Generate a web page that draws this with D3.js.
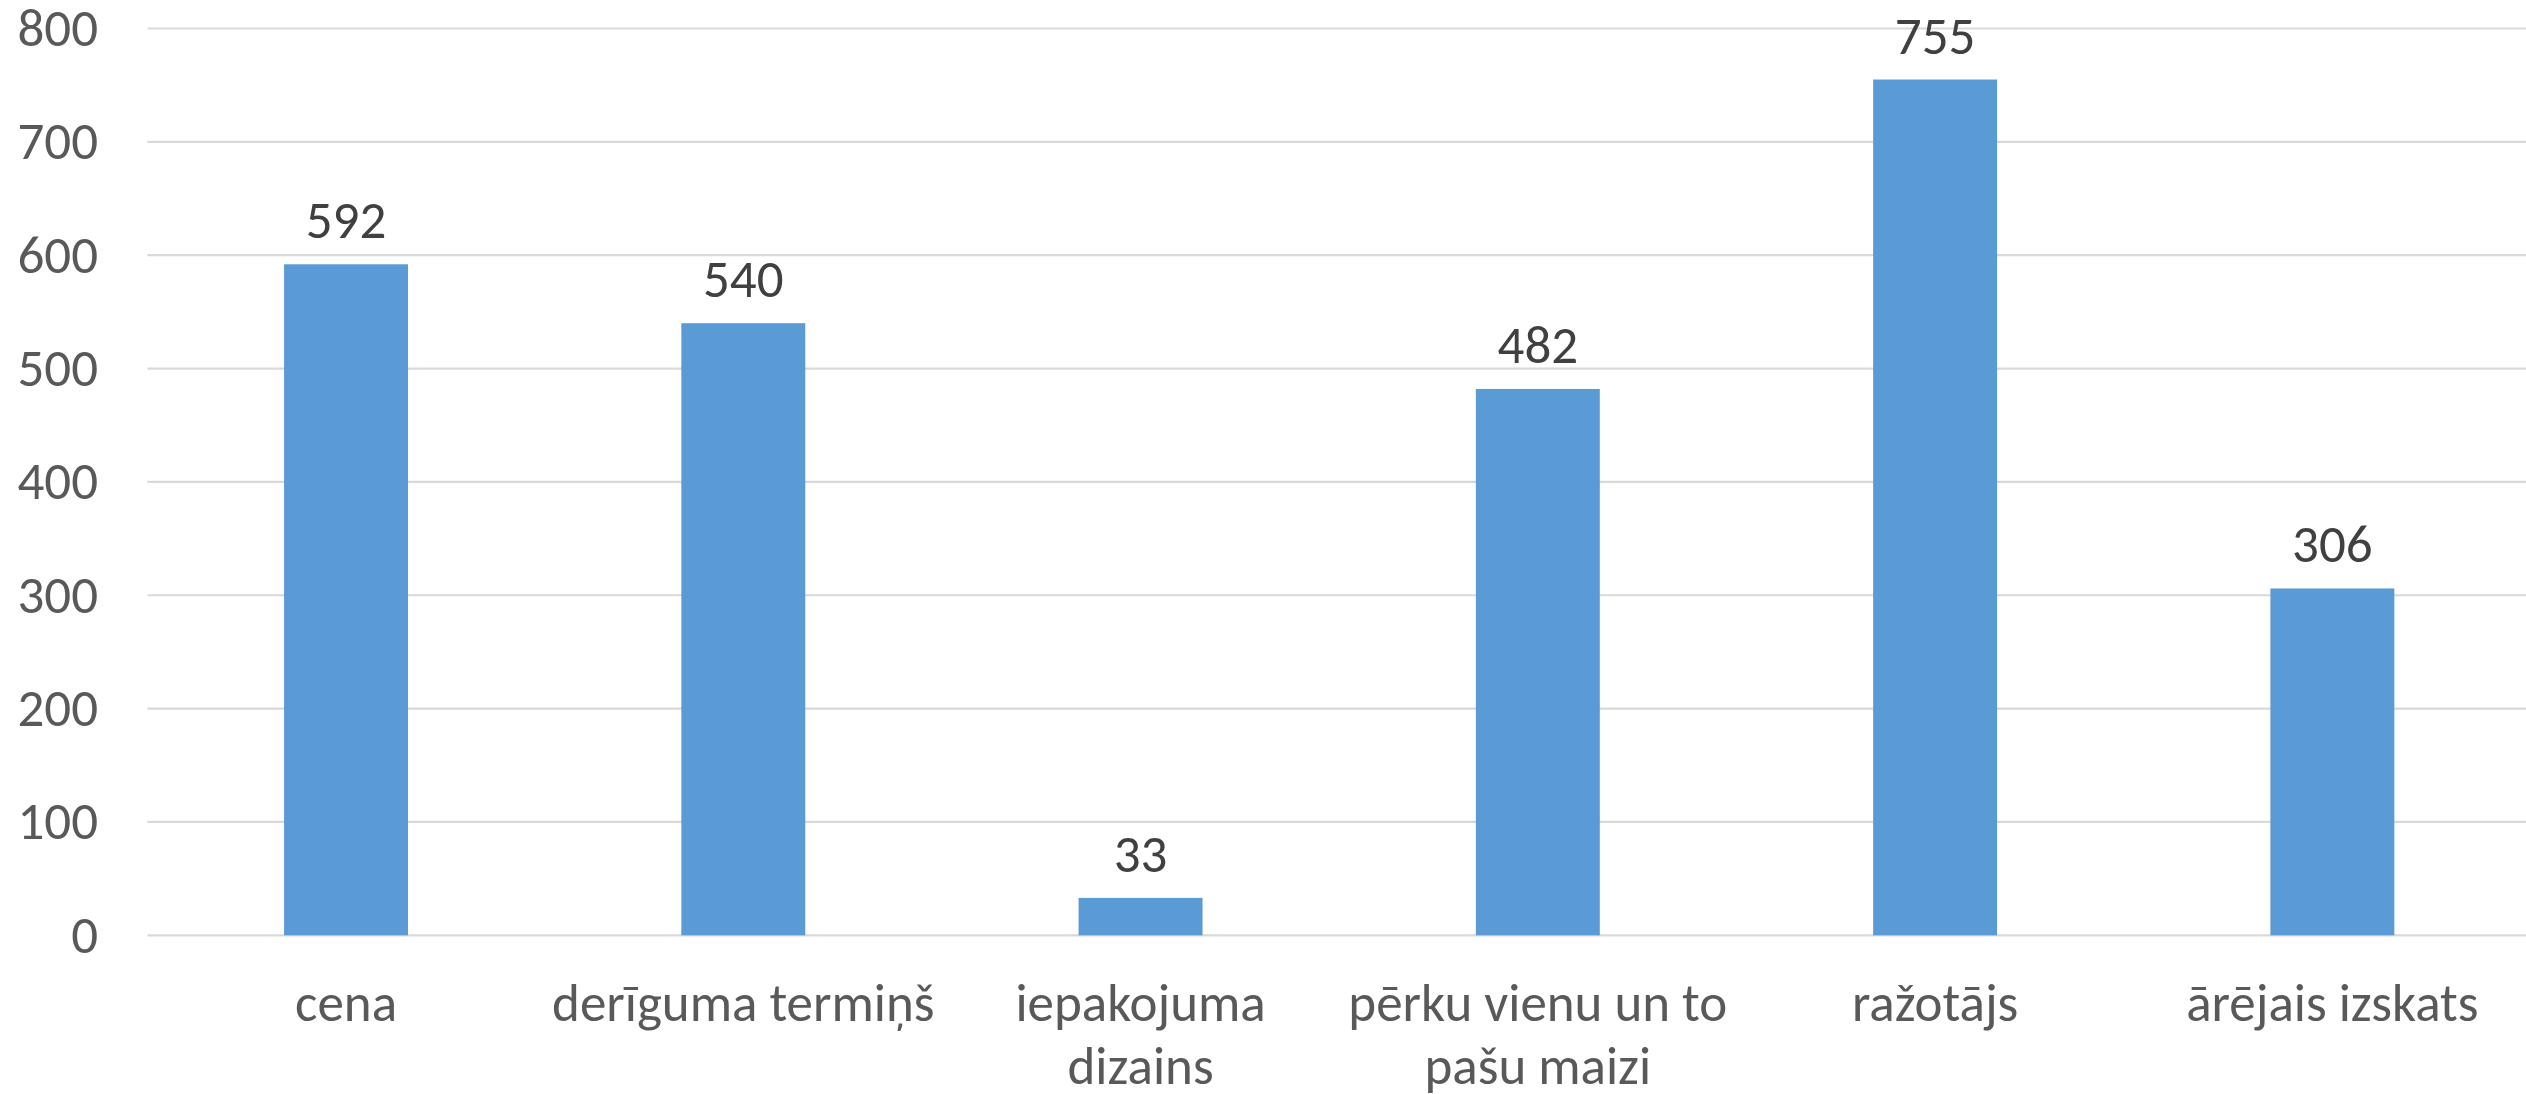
<!DOCTYPE html>
<html lang="lv">
<head>
<meta charset="utf-8">
<title>Bar chart</title>
<script src="https://d3js.org/d3.v7.min.js"></script>
<style>
  html, body { margin: 0; padding: 0; background: #fff; }
  svg { display: block; }
</style>
</head>
<body>
<div id="chart"></div>
<script>
const categories = ["cena", "derīguma termiņš", "iepakojuma\ndizains", "pērku vienu un to\npašu maizi", "ražotājs", "ārējais izskats"];
const values = [592, 540, 33, 482, 755, 306];
const yTicks = [0, 100, 200, 300, 400, 500, 600, 700, 800];

const width = 2526, height = 1094;
const font = "Carlito, 'Open Sans', sans-serif";
const fs = 53;

const svg = d3.select("#chart").append("svg")
  .attr("width", width).attr("height", height);

const x = d3.scaleBand()
  .domain(categories)
  .range([147.4, 2531])
  .paddingInner(0.688)
  .paddingOuter(0.344);

const y = d3.scaleLinear()
  .domain([0, 800])
  .range([935.3, 28.5]);

// gridlines
svg.append("g")
  .selectAll("line")
  .data(yTicks)
  .join("line")
  .attr("x1", 147.4).attr("x2", 2531)
  .attr("y1", d => y(d)).attr("y2", d => y(d))
  .attr("stroke", "#d9d9d9")
  .attr("stroke-width", 2.2);

// y axis labels
const yAxis = svg.append("g")
  .attr("transform", "translate(148,0)")
  .call(d3.axisLeft(y).tickValues(yTicks).tickSize(0).tickPadding(50));
yAxis.select(".domain").remove();
yAxis.selectAll("text")
  .attr("font-family", font)
  .attr("font-size", fs)
  .attr("fill", "#595959");

// bars
svg.append("g")
  .selectAll("rect")
  .data(values)
  .join("rect")
  .attr("x", (d, i) => x(categories[i]))
  .attr("width", x.bandwidth())
  .attr("y", d => y(d))
  .attr("height", d => y(0) - y(d))
  .attr("fill", "#5b9bd5");

// value labels
svg.append("g")
  .selectAll("text")
  .data(values)
  .join("text")
  .attr("x", (d, i) => x(categories[i]) + x.bandwidth() / 2)
  .attr("y", d => y(d) - 26)
  .attr("text-anchor", "middle")
  .attr("font-family", font)
  .attr("font-size", fs)
  .attr("fill", "#404040")
  .text(d => d);

// category labels
svg.append("g")
  .selectAll("text")
  .data(categories)
  .join("text")
  .attr("text-anchor", "middle")
  .attr("font-family", font)
  .attr("font-size", fs)
  .attr("fill", "#595959")
  .each(function (d) {
    const t = d3.select(this);
    d.split("\n").forEach((line, k) => {
      t.append("tspan")
        .attr("x", x(d) + x.bandwidth() / 2)
        .attr("y", 1021 + k * 63)
        .text(line);
    });
  });
</script>
</body>
</html>
